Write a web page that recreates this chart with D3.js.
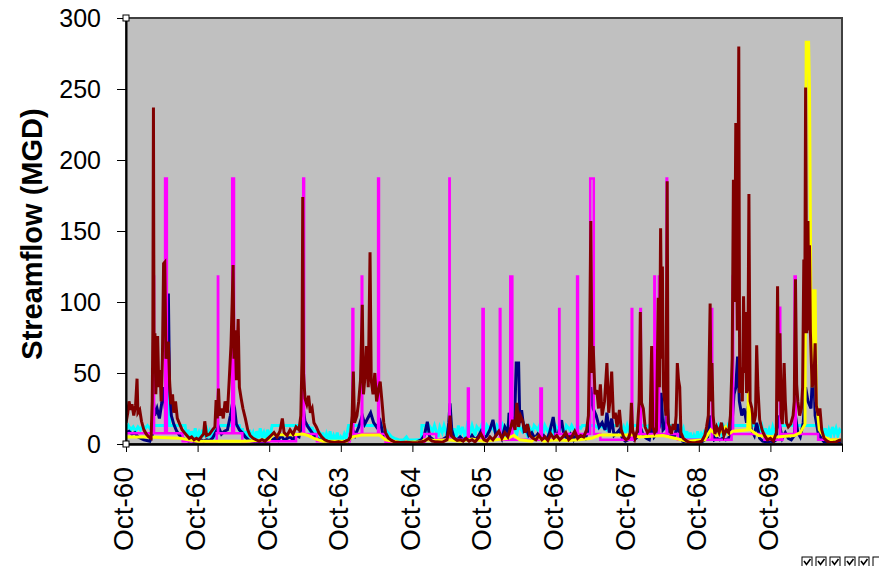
<!DOCTYPE html>
<html>
<head>
<meta charset="utf-8">
<script src="https://cdn.jsdelivr.net/npm/d3@7"></script>
<style>
  body { margin: 0; background: #ffffff; }
  text { font-family: "Liberation Sans", Arial, sans-serif; }
</style>
</head>
<body>
<div id="chart-area"></div>
<script>
/*
*   Streamflow chart, Oct-60 to Oct-70
*   t = months since Oct 1960, v = MGD
*/

// TICK LABELS
const tickLabels = ["Oct-60", "Oct-61", "Oct-62", "Oct-63", "Oct-64",
                    "Oct-65", "Oct-66", "Oct-67", "Oct-68", "Oct-69"]
const yTicks = [0, 50, 100, 150, 200, 250, 300]

// SERIES: [t, value]
const maroonFlow = [
  [0,15],[0.3,22],[0.5,30],[0.8,24],[1.0,28],[1.3,20],[1.6,27],[1.85,46],[2.0,22],[2.3,24],[2.6,16],[3.0,10],[3.4,7],[3.8,5],[4.2,4],[4.4,30],[4.5,80],[4.6,237],[4.7,60],[4.85,78],[5.0,35],[5.3,76],[5.5,40],[5.7,52],[5.9,30],[6.1,60],[6.3,127],[6.5,128],[6.7,60],[6.9,70],[7.1,72],[7.3,45],[7.5,28],[7.8,35],[8.0,22],[8.3,30],[8.6,18],[9.0,14],[9.4,10],[9.8,8],[10.2,6],[10.6,4],[11.0,5],[11.4,3],[11.8,4],[12.2,3],[12.6,5],[13.0,7],[13.2,16],[13.5,6],[14,7],[14.5,10],[14.9,12],[15.1,31],[15.3,18],[15.5,39],[15.7,20],[16.0,25],[16.3,18],[16.6,30],[17.0,22],[17.3,45],[17.6,70],[17.8,100],[17.95,126],[18.1,60],[18.3,80],[18.5,45],[18.8,88],[19.0,40],[19.3,32],[19.6,25],[20.0,18],[20.4,10],[20.8,6],[21.3,4],[21.8,3],[22.3,2],[22.8,3],[23.3,2],[23.8,4],
  [24.3,6],[24.8,8],[25.3,5],[25.8,9],[26.2,18],[26.5,8],[27,6],[27.5,10],[28,7],[28.5,12],[29,10],[29.3,20],[29.5,60],[29.62,174],[29.75,50],[30.0,32],[30.3,28],[30.6,34],[30.9,22],[31.2,25],[31.5,15],[31.9,12],[32.3,8],[32.8,5],[33.3,3],[33.8,2],[34.4,1.5],[35,1],[35.6,1.5],[36.2,1],[36.8,2],[37.3,3],
  [37.6,5],[37.9,20],[38.1,51],[38.3,15],[38.7,20],[39.0,30],[39.3,45],[39.6,98],[39.8,35],[40.1,50],[40.3,69],[40.6,40],[40.9,135],[41.1,45],[41.4,35],[41.7,50],[42.0,30],[42.3,38],[42.6,44],[42.9,30],[43.2,15],[43.5,8],[44,4],[44.5,2.5],[45,1.5],[46,1],[47,1.2],[48,0.8],
  [49,1],[50,2],[50.7,4],[51.3,2],[52,1.5],[53,1.2],[53.8,3],[54.1,10],[54.3,20],[54.5,6],[55,4],[55.5,2.5],[56,3],[56.5,2],[57,4],[57.5,2],[58,3],[58.5,1.5],[59,4],[59.5,7],[60,3],
  [60.5,2],[61,5],[61.5,3],[62,6],[62.5,9],[63,4],[63.5,8],[64,5],[64.5,12],[64.8,17],[65.2,10],[65.5,29],[65.8,12],[66.1,20],[66.5,16],[66.9,8],[67.3,14],[67.7,6],[68.2,4],[68.7,3],[69.2,6],[69.7,3],[70.2,5],[70.7,2.5],[71.2,7],[71.7,4],[72.2,6],[72.7,3],[73.2,5],[73.7,8],[74.2,3],[74.7,5],[75.2,9],[75.7,4],[76.2,6],[76.7,5],[77.2,10],
  [77.5,20],[77.7,70],[77.9,157],[78.1,50],[78.3,69],[78.6,35],[78.9,38],[79.2,25],[79.5,42],[79.8,20],[80.2,30],[80.6,57],[80.9,22],[81.1,30],[81.4,51],[81.7,18],[82.0,22],[82.3,12],[82.7,24],[83.0,10],[83.4,5],[83.8,3],[84.2,4],[84.5,8],[84.7,29],[84.9,10],[85.3,4],[85.7,10],[86.0,30],[86.2,93],[86.4,29],[86.7,25],[87.0,12],[87.4,8],[87.8,10],[88.1,69],[88.3,12],[88.6,8],[88.9,10],[89.2,103],[89.4,40],[89.6,152],[89.8,60],[89.9,125],[90.05,40],[90.3,29],[90.5,20],[90.7,185],[90.85,15],[91.1,12],[91.4,7],[91.7,14],[92.0,10],[92.2,20],[92.4,57],[92.6,45],[92.8,40],[93.0,8],[93.4,4],[94,2],[94.5,1],[95,0.8],[95.5,1],[96,1.5],
  [96.5,2],[97,6],[97.3,12],[97.6,20],[97.9,99],[98.05,30],[98.2,57],[98.4,20],[98.7,7],[99,12],[99.4,8],[99.8,15],[100.2,6],[100.6,10],[101,8],[101.3,20],[101.6,60],[101.8,186],[102.0,100],[102.2,226],[102.45,80],[102.7,280],[102.85,36],[103.1,54],[103.3,30],[103.5,104],[103.7,50],[103.8,93],[104.0,36],[104.2,40],[104.4,176],[104.6,30],[104.9,25],[105.2,14],[105.5,20],[105.7,69.5],[105.9,40],[106.2,17],[106.6,10],[107,6],[107.5,3],[108,4],[108.5,2],
  [109,8],[109.2,111],[109.4,30],[109.6,78],[109.8,20],[110.0,14],[110.3,57],[110.5,30],[110.7,15],[111.0,12],[111.4,14],[111.8,20],[112.0,30],[112.2,116],[112.4,42],[112.6,30],[112.9,20],[113.2,25],[113.4,40],[113.6,130],[113.75,78],[113.9,251],[114.1,78],[114.3,157],[114.45,80],[114.55,140],[114.7,79],[115.0,40],[115.3,45],[115.5,71],[115.7,27],[116.0,20],[116.3,25],[116.6,10],[117,4],[117.5,2],[118,1],[118.5,1.2],[119,1.5],[119.5,2.5],[120,3]
]

const navyFlow = [
  [0,8],[0.5,9],[1,7],[1.5,8],[2,5],[2.5,4],[3,3],[3.5,2.5],[4,2],[4.4,6],[4.6,30],[4.8,20],[5.2,25],[5.6,18],[6.0,29],[6.3,40],[6.6,25],[6.9,60],[7.1,106],[7.3,40],[7.6,20],[8.0,14],[8.5,9],[9,6],[9.5,4],[10,3],[10.5,2],[11,2.5],[11.5,1.5],[12,2],
  [12.5,3],[13,2],[13.5,3],[14,2.5],[14.5,4],[15,8],[15.5,12],[16,7],[16.5,9],[17,10],[17.5,20],[17.9,30],[18.2,25],[18.5,14],[19,10],[19.5,8],[20,5],[20.5,3],[21,2],[22,1.5],[23,1],[24,2],
  [24.5,3],[25,4],[25.5,2.5],[26,6],[26.5,3],[27,4],[27.5,5],[28,3],[28.5,6],[29,5],[29.5,14],[29.7,25],[30,16],[30.5,12],[31,9],[31.5,6],[32,4],[33,2],[34,1.5],[35,1],[36,1.2],[37,1.5],
  [37.5,3],[38,10],[38.4,6],[39,12],[39.6,20],[40,14],[40.5,18],[41,22],[41.5,15],[42,12],[42.6,16],[43,8],[43.5,4],[44,2],[45,1],[46,0.8],[47,1],[48,1.2],
  [48.5,1],[49,2],[49.5,3],[50,6],[50.5,15.7],[50.9,5],[51.5,3],[52,2],[53,3],[53.8,5],[54.1,15],[54.3,28.7],[54.6,10],[55,4],[55.5,3],[56,5],[56.5,3],[57,4],[57.5,2.5],[58,6],[58.5,3],[59,5],[59.5,9],[60,4],
  [60.5,6],[61,10],[61.5,17],[62,6],[62.5,9],[63,4],[63.5,12],[64,8],[64.2,22],[64.5,10],[64.8,19],[65.1,12],[65.4,57],[65.8,57],[66,15],[66.3,23.8],[66.7,10],[67,12],[67.5,6],[68,8],[68.5,4],[69,7],[69.5,4],[70,6],[70.5,3],[71,8],[71.6,19],[72,6],[72.5,8],[73,16.8],[73.4,6],[74,4],[74.5,7],[75,3],[75.5,8],[76,5],[76.5,6],[77,4],
  [77.5,10],[77.9,40],[78.3,25],[78.8,20],[79.3,12],[79.8,15],[80.3,10],[80.6,22],[81,8],[81.4,18],[81.8,6],[82.3,8],[82.7,10],[83.2,4],[83.7,2],[84.2,3],[84.7,8],[85.2,3],[85.7,5],[86.2,12],[86.7,6],[87.2,4],
  [87.7,3],[88.1,12],[88.5,5],[89,8],[89.4,12],[89.7,36],[90,10],[90.4,12],[90.7,30],[91,8],[91.5,5],[92,6],[92.4,14],[92.8,6],[93.3,2],[94,1],[95,0.5],[96,1],
  [96.5,1.5],[97,3],[97.5,5],[97.9,20],[98.2,12],[98.6,3],[99,4],[99.5,3],[100,4],[100.5,3],[101,4],[101.5,10],[101.9,35],[102.2,40],[102.5,61.5],[102.8,30],[103.2,20],[103.6,25],[104,15],[104.4,30],[104.8,10],[105.3,6],[105.7,15],[106.2,4],[106.7,2],[107.3,1.5],[108,2],
  [108.5,1.5],[109,3],[109.2,20],[109.6,12],[110,4],[110.5,8],[111,4],[111.5,3],[112,6],[112.2,20],[112.6,8],[113,5],[113.5,15],[113.9,40],[114.3,30],[114.8,25],[115.2,61.5],[115.5,20],[116,8],[116.5,4],[117,1.5],[118,0.8],[119,1],[120,1.5]
]

const cyanFlow = [
  [0,10],[0.4,13],[0.8,10],[1.2,12],[1.6,9],[2.0,12],[2.4,10],[2.8,13],[3.2,11],[3.6,13],[4.0,11],[4.5,13],[7.1,13],[7.2,37],[7.3,13],[9.9,13],
  [10.1,6],[10.4,10],[10.7,3],[11.0,9],[11.3,4],[11.6,11],[11.9,5],[12.2,8],[12.5,3],[12.8,10],[13.1,5],[13.4,13],[13.7,6],[14.0,9],[14.3,4],[14.6,11],[14.9,6],[15.2,10],[15.5,13],[19.0,13],
  [19.2,7],[19.5,11],[19.8,4],[20.1,9],[20.4,3],[20.7,10],[21.0,5],[21.3,8],[21.6,3],[21.9,9],[22.2,4],[22.5,11],[22.8,5],[23.1,8],[23.4,3],[23.7,10],[24.0,6],[24.3,9],[24.5,13],[30.6,13],
  [30.9,8],[31.2,12],[31.5,5],[31.8,10],[32.1,4],[32.4,9],[32.7,3],[33.0,8],[33.3,2],[33.6,7],[33.9,3],[34.2,9],[34.5,2],[34.8,6],[35.1,3],[35.4,8],[35.7,2],[36.0,5],[36.3,3],[36.6,7],[36.9,4],[37.3,13],[42.9,13],
  [43.3,11],[43.7,9],[44.1,7],[44.5,5],[45,4],[45.7,3],[46.5,2.8],[47,5],[47.3,3],[48,2.8],[49,3],[49.5,3],[49.6,13],
  [50.2,13],[50.5,7],[50.8,13],[51.4,9],[51.7,13],[52.3,5],[52.6,12],[53.0,8],[53.3,13],[53.8,6],[54.1,13],[54.7,4],[55.0,11],[55.4,5],[55.7,13],[56.1,7],[56.4,12],[56.9,4],[57.2,13],[57.7,8],[58.0,13],[58.5,6],[58.8,12],[59.3,9],[59.6,13],[60.2,7],[60.5,13],[61.0,10],[61.3,13],[61.9,8],[62.2,13],[62.8,9],[63.1,13],[63.7,6],[64.0,13],[64.6,10],[64.9,13],[65.5,7],[65.8,13],[66.4,9],[66.7,13],[67.3,6],[67.6,12],[68.1,8],[68.4,13],[69.0,10],[69.3,13],[69.9,7],[70.2,13],[70.8,8],[71.1,12],[71.7,6],[72.0,13],[72.6,9],[72.9,13],[73.5,7],[73.8,13],[74.4,10],[74.7,13],[75.3,8],[75.6,13],[76.2,11],[76.5,13],[78.6,13],
  [79.2,11],[79.5,13],[80.5,10],[80.8,13],[82.8,13],[83.1,9],[83.4,12],[83.7,8],[84.0,13],[84.3,9],[84.6,11],[85,13],[87,13],[87.3,11],[87.6,13],[90,13],[90.3,11],[90.6,13],[92.8,13],
  [93.1,8],[93.4,11],[93.7,4],[94.0,9],[94.3,3],[94.6,8],[94.9,2],[95.2,6],[95.5,3],[95.8,9],[96.1,3],[96.4,7],[96.7,4],[97.0,10],[97.3,5],[97.6,11],[97.9,13],
  [98.3,8],[98.6,13],[99.0,10],[99.3,13],[99.8,7],[100.1,13],[100.6,9],[100.9,13],[101.3,10],[101.7,13],[106,13],
  [106.3,8],[106.6,12],[106.9,6],[107.2,11],[107.5,5],[107.8,10],[108.1,6],[108.4,12],[108.7,8],[109.0,11],[109.4,13],[116,13],
  [116.3,7],[116.6,12],[116.9,6],[117.2,11],[117.5,5],[117.8,10],[118.1,6],[118.4,12],[118.7,7],[119.0,11],[119.3,6],[119.6,10],[120,8]
]

const yellowFlow = [
  [0,5],[4,5],[9,4],[12,2],[20,2],[24,3],[24.5,6.5],[28,6.5],[29.6,7],[30.5,6],[31.5,4],[33,2],[37,2],[38,5],[39.5,6.3],[42.5,6.3],[43.5,3],[46,1],[49.5,1.5],[50,3],[52,2.5],[54,3],[56,2],[58,3.5],[60,2],[62,3],[64,4],[65,6],[66,3],[68,2],[69,5],[70,2],[72,3],[74,2.5],[76,3],[78,4],[79.4,6.3],[85,6.3],[86,5],[90,6],[92,4],[94,2],[97,3],[98,10],[99,6],[100.5,12],[101,7],[101.7,9],[104.2,10],[104.4,52],[104.6,10],[106,6],[109,5],[112,6],[113,8],[113.8,14],[114.0,283],[114.4,283],[114.55,250],[114.7,158],[114.85,60],[115.0,40],[115.2,108],[115.5,108],[115.7,30],[116.2,10],[117,5],[118,3],[120,3]
]

// magenta: base level steps [from, to, value] and pulses [from, to, peak]
const magentaBase = [
  [0,9.5,7.5],[9.5,15.2,2],[15.2,19.5,7.5],[19.5,28.5,2],[28.5,32,7],[32,37.5,2],[37.5,43.5,7],[43.5,50,1],[50,52,7],[52,72,3],[72,79.5,7],[79.5,85,3],[85,92.5,7],[92.5,101.5,3],[101.5,107,7],[107,110,3],[110,116,7],[116,120,3]
]
const magentaPulses = [
  [4.6,4.7,118],[6.55,6.85,187],[15.4,15.45,118],[17.8,18.1,187],[29.7,29.85,187],[37.95,38.1,95],[39.5,39.6,118],[42.25,42.4,187],[54.2,54.25,187],[57.3,57.45,39],[59.75,59.95,95],[62.65,62.75,95],[64.4,64.75,118],[69.45,69.7,39],[72.6,72.65,95],[75.6,75.75,118],[77.8,78.4,187],[84.75,84.85,95],[86.2,86.3,95],[88.55,88.65,118],[89.3,89.35,118],[90.6,90.7,187],[98.2,98.25,95],[101.7,101.75,118],[109.6,109.65,96],[112.05,112.25,118]
]

// SET CANVAS
const WIDTH = 879
const HEIGHT = 566
const PLOT = {LEFT: 126, RIGHT: 842, TOP: 18, BOTTOM: 444}

const svg = d3.select("#chart-area").append("svg")
    .attr("width", WIDTH)
    .attr("height", HEIGHT)

// --- + scales
const x = d3.scaleLinear().domain([0, 120]).range([PLOT.LEFT, PLOT.RIGHT])
const y = d3.scaleLinear().domain([0, 300]).range([PLOT.BOTTOM, PLOT.TOP])

// --- + plot area
svg.append("rect")
    .attr("x", x(0))
    .attr("y", y(300))
    .attr("width", x(120) - x(0))
    .attr("height", y(0) - y(300))
    .attr("fill", "#c0c0c0")

svg.append("clipPath").attr("id", "clip")
  .append("rect")
    .attr("x", x(0))
    .attr("y", y(300))
    .attr("width", x(120) - x(0))
    .attr("height", y(0) - y(300))

// --- + build the magenta step series
const cuts = new Set([0, 120])
magentaBase.forEach(b => { cuts.add(b[0]); cuts.add(b[1]) })
magentaPulses.forEach(p => { cuts.add(p[0]); cuts.add(p[1]) })
const magentaFlow = Array.from(cuts).sort((a, b) => a - b).map(t => {
    const pulse = magentaPulses.find(p => t >= p[0] && t < p[1])
    const base = magentaBase.find(b => t >= b[0] && t < b[1]) || magentaBase[magentaBase.length - 1]
    return [t, pulse ? pulse[2] : base[2]]
})

const line = d3.line().x(d => x(d[0])).y(d => y(d[1]))
const stepLine = d3.line().x(d => x(d[0])).y(d => y(d[1])).curve(d3.curveStepAfter)

const lines = svg.append("g").attr("clip-path", "url(#clip)")

const series = [
    {data: cyanFlow,    color: "#00ffff", width: 3,   gen: line},
    {data: navyFlow,    color: "#000080", width: 3,   gen: line},
    {data: magentaFlow, color: "#ff00ff", width: 2.5, gen: stepLine},
    {data: yellowFlow,  color: "#ffff00", width: 3,   gen: line},
    {data: maroonFlow,  color: "#800000", width: 3,   gen: line}
]

series.forEach(s => {
    lines.append("path")
        .attr("d", s.gen(s.data))
        .attr("fill", "none")
        .attr("stroke", s.color)
        .attr("stroke-width", s.width)
})

// --- + border
svg.append("rect")
    .attr("x", x(0))
    .attr("y", y(300))
    .attr("width", x(120) - x(0))
    .attr("height", y(0) - y(300))
    .attr("fill", "none")
    .attr("stroke", "#404040")
    .attr("stroke-width", 2)

// --- + y axis
const yAxisCall = d3.axisLeft(y)
    .tickValues(yTicks)
    .tickSize(9)
    .tickSizeOuter(0)
    .tickPadding(16)
const yAxis = svg.append("g")
    .attr("transform", `translate(${x(0)}, 0)`)
    .call(yAxisCall)
yAxis.select(".domain").attr("stroke", "#000").attr("stroke-width", 2)
yAxis.selectAll("text")
    .attr("font-size", "25px")
    .attr("fill", "#000")
    .style("font-family", "'Liberation Sans', Arial, sans-serif")

// --- + x axis
const xAxisCall = d3.axisBottom(x)
    .tickValues(d3.range(0, 121, 12))
    .tickSize(8)
    .tickSizeOuter(0)
    .tickFormat((d, i) => tickLabels[i] || "")
const xAxis = svg.append("g")
    .attr("transform", `translate(0, ${y(0)})`)
    .call(xAxisCall)
xAxis.select(".domain").attr("stroke", "#000").attr("stroke-width", 2.5)
xAxis.selectAll("text")
    .attr("transform", "rotate(-90)")
    .attr("x", -23)
    .attr("y", -3)
    .attr("dy", "0.35em")
    .attr("font-size", "28px")
    .attr("fill", "#000")
    .style("text-anchor", "end")
    .style("font-family", "'Liberation Sans', Arial, sans-serif")

// --- + y axis label
svg.append("text")
    .attr("transform", "translate(42, 234) rotate(-90)")
    .attr("text-anchor", "middle")
    .attr("font-size", "29px")
    .attr("font-weight", "bold")
    .text("Streamflow (MGD)")

// --- + selection handles at the axis corners
svg.selectAll(".handle")
    .data([300, 0])
    .enter()
    .append("rect")
    .attr("class", "handle")
    .attr("x", x(0) - 3)
    .attr("y", d => y(d) - 3)
    .attr("width", 6)
    .attr("height", 6)
    .attr("fill", "#fff")
    .attr("stroke", "#000")
    .attr("stroke-width", 1)

// --- + little check boxes, bottom right
const boxes = [true, true, true, true, true, false]
const boxG = svg.append("g").attr("transform", "translate(802, 557)")
boxes.forEach((checked, i) => {
    const bx = i * 14 + (i > 2 ? 1 : 0)
    boxG.append("rect")
        .attr("x", bx).attr("y", 0)
        .attr("width", 10).attr("height", 10)
        .attr("fill", "#fff").attr("stroke", "#000").attr("stroke-width", 1)
    if (checked) {
        boxG.append("path")
            .attr("d", `M${bx + 2},${4} L${bx + 4.5},${7.5} L${bx + 8.5},${2}`)
            .attr("fill", "none").attr("stroke", "#000").attr("stroke-width", 1.6)
    }
})
</script>
</body>
</html>
